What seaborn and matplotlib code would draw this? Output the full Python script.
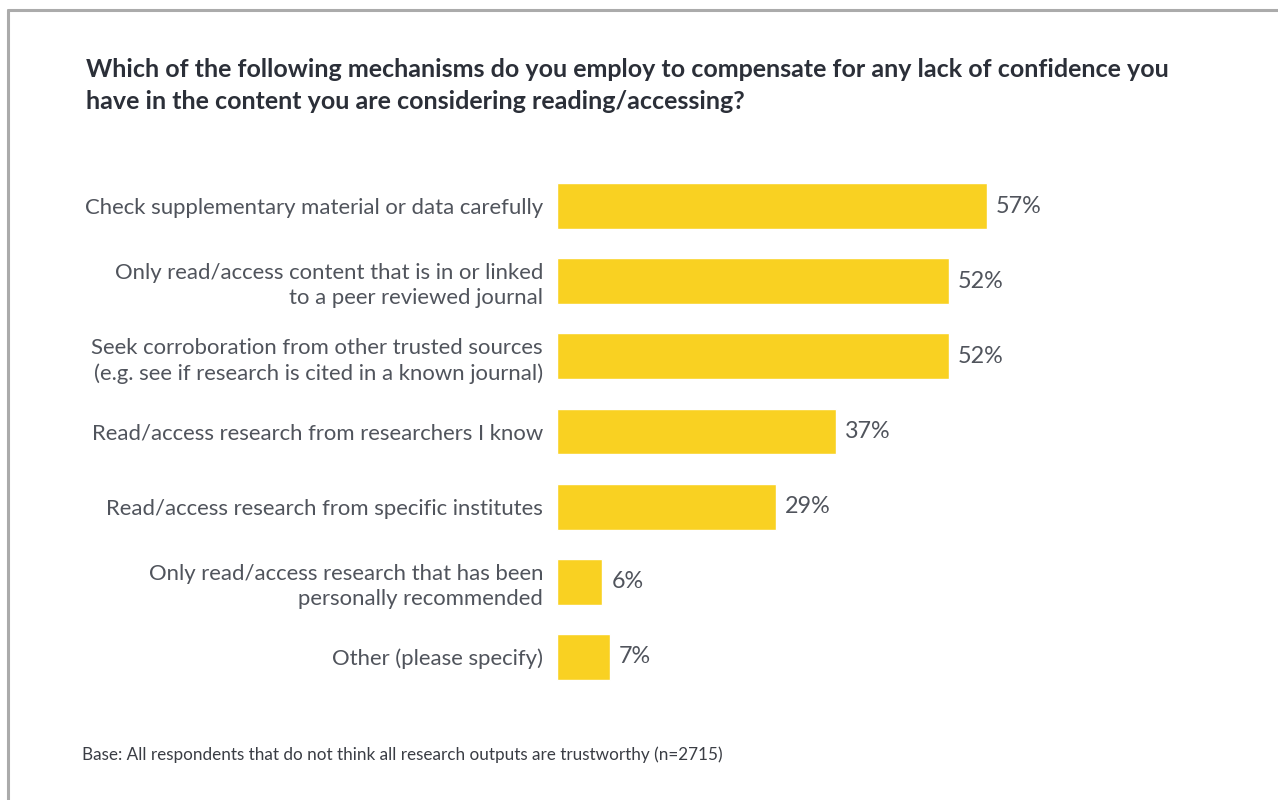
import matplotlib
matplotlib.use("Agg")
import matplotlib.pyplot as plt
from matplotlib.lines import Line2D
import seaborn as sns
import pandas as pd

# Survey responses (% of respondents)
mechanisms = [
    "Check supplementary material or data carefully",
    "Only read/access content that is in or linked\nto a peer reviewed journal",
    "Seek corroboration from other trusted sources\n(e.g. see if research is cited in a known journal)",
    "Read/access research from researchers I know",
    "Read/access research from specific institutes",
    "Only read/access research that has been\npersonally recommended",
    "Other (please specify)",
]
shares = [57, 52, 52, 37, 29, 6, 7]

title = ("Which of the following mechanisms do you employ to compensate for any lack of confidence you\n"
         "have in the content you are considering reading/accessing?")
footnote = "Base: All respondents that do not think all research outputs are trustworthy (n=2715)"

df = pd.DataFrame({"mechanism": mechanisms, "share": shares})

sns.set_theme(style="white")
plt.rcParams["font.family"] = ["Lato", "DejaVu Sans"]

BAR = "#F9D122"
LABEL = "#50545c"
TITLE = "#2b2f38"

fig = plt.figure(figsize=(12.78, 8.0), dpi=100)
ax = fig.add_axes([557 / 1278, 1 - 694.5 / 800, 656 / 1278, 526 / 800])

sns.barplot(data=df, x="share", y="mechanism", color=BAR, width=0.61,
            saturation=1, ax=ax, order=mechanisms)

ax.set_xlim(0, 87)
ax.set_ylim(6.5, -0.5)
ax.set_xlabel("")
ax.set_ylabel("")
ax.set_xticks([])
sns.despine(ax=ax, left=True, bottom=True)
ax.tick_params(axis="y", length=0, pad=10, labelsize=15.9, labelcolor=LABEL)
for t in ax.get_yticklabels():
    t.set_multialignment("right")
    t.set_linespacing(1.32)

for cont in ax.containers:
    ax.bar_label(cont, labels=[f"{v:g}%" for v in cont.datavalues],
                 padding=6.5, fontsize=16.8, color=LABEL)

fig.text(86 / 1278, 1 - 58 / 800, title, ha="left", va="top",
         fontsize=18.0, fontweight="bold", color=TITLE, linespacing=1.48)
fig.text(82 / 1278, 1 - 755 / 800, footnote, ha="left", va="center",
         fontsize=12.3, color="#3a3d44")

# Frame lines along the top and left edges
frame = "#ababab"
fig.add_artist(Line2D([8 / 1278, 1.0], [1 - 10 / 800, 1 - 10 / 800],
                      transform=fig.transFigure, color=frame, lw=2.2))
fig.add_artist(Line2D([8 / 1278, 8 / 1278], [1 - 10 / 800, 0.0],
                      transform=fig.transFigure, color=frame, lw=2.2))

fig.savefig("out.png", dpi=100, facecolor="white")
